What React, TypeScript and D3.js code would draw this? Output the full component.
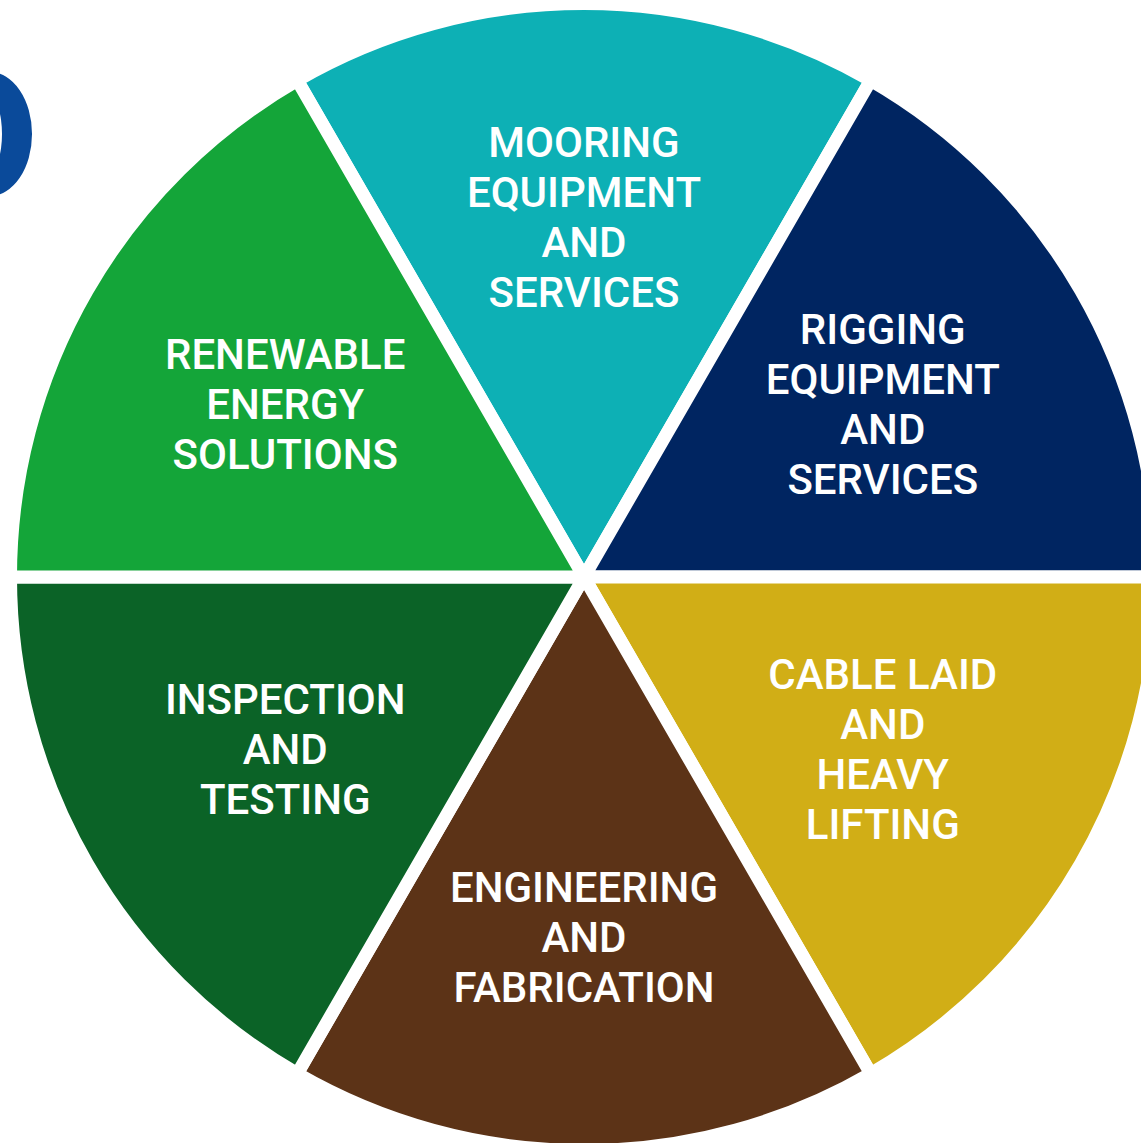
import * as d3 from 'd3'

// six equal segments, clockwise from the top
const segments = ['mooring', 'rigging', 'cable', 'engineering', 'inspection', 'renewable']
const segmentLines = [
  ['MOORING', 'EQUIPMENT', 'AND', 'SERVICES'],
  ['RIGGING', 'EQUIPMENT', 'AND', 'SERVICES'],
  ['CABLE LAID', 'AND', 'HEAVY', 'LIFTING'],
  ['ENGINEERING', 'AND', 'FABRICATION'],
  ['INSPECTION', 'AND', 'TESTING'],
  ['RENEWABLE', 'ENERGY', 'SOLUTIONS'],
]
const segmentValues = [1, 1, 1, 1, 1, 1]
const segmentColors = ['#0db0b5', '#002561', '#d1ae16', '#5c3317', '#0b6327', '#14a539']

export default () => {
  const width = 1141,
    height = 1143
  const cx = 584,
    cy = 577,
    r = 567
  const gap = 13

  const pie = d3
    .pie<number>()
    .sort(null)
    .startAngle(-Math.PI / 6)
    .endAngle(2 * Math.PI - Math.PI / 6)
  const arcs = pie(segmentValues)

  // white stroke makes the gaps, so push the outer edge out by half of it
  const arc = d3.arc<d3.PieArcDatum<number>>().innerRadius(0).outerRadius(r + gap / 2)

  const lineH = 50

  return (
    <svg
      width={width}
      height={height}
      style={{ position: 'absolute', left: 0, top: 0, display: 'block' }}
    >
      <rect width={width} height={height} fill="#fff" />
      {/* the cropped blue logo letter at the top left */}
      <path
        d="M -10 72 A 42 62 0 1 1 -10 196 A 42 62 0 1 1 -10 72 Z M -10 98 A 12 36 0 1 0 -10 170 A 12 36 0 1 0 -10 98 Z"
        fill="#0a4a9a"
        fillRule="evenodd"
      />
      <g transform={`translate(${cx},${cy})`}>
        {arcs.map((a, i) => (
          <path
            key={segments[i]}
            d={arc(a) || ''}
            fill={segmentColors[i]}
            stroke="#fff"
            strokeWidth={gap}
            strokeLinejoin="miter"
          />
        ))}
        {arcs.map((a, i) => {
          const lr = i % 3 === 0 ? 360 : 345
          const [lx, ly] = d3.arc<d3.PieArcDatum<number>>().innerRadius(lr).outerRadius(lr).centroid(a)
          const lines = segmentLines[i]
          const y0 = ly - ((lines.length - 1) * lineH) / 2
          return (
            <text
              key={segments[i] + '-label'}
              x={lx}
              textAnchor="middle"
              fill="#fff"
              fontFamily="Roboto, 'Liberation Sans', sans-serif"
              fontWeight={500}
              fontSize={42}
            >
              {lines.map((t, j) => (
                <tspan key={j} x={lx} y={y0 + j * lineH} dy="0.35em">
                  {t}
                </tspan>
              ))}
            </text>
          )
        })}
      </g>
    </svg>
  )
}
